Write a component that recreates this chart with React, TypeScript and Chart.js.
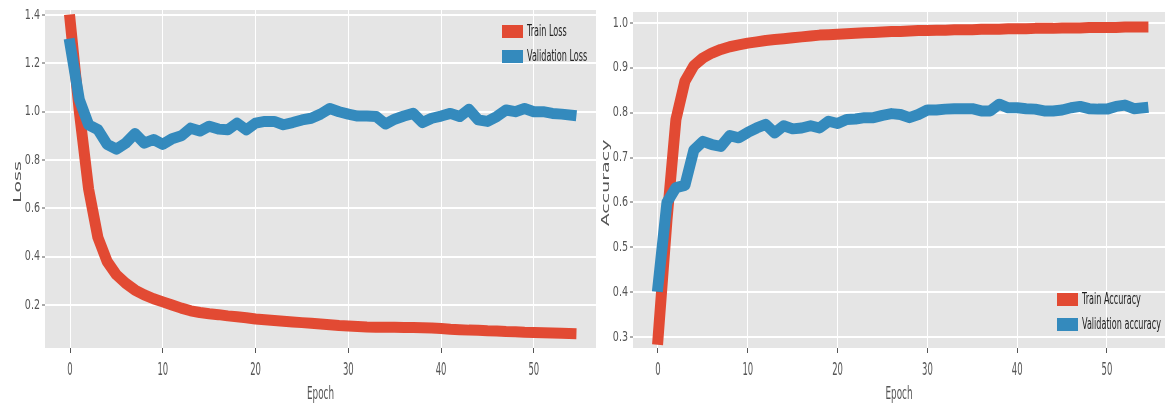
import React, { useEffect, useRef } from 'react';
import { Chart, registerables } from 'chart.js';

Chart.register(...registerables);

// ---------- data ----------
const TRAIN_LOSS = [
  1.38, 1.0, 0.68, 0.48, 0.38, 0.325, 0.29, 0.262, 0.242, 0.226,
  0.213, 0.2, 0.187, 0.176, 0.169, 0.164, 0.16, 0.155, 0.151, 0.147,
  0.142, 0.139, 0.136, 0.133, 0.13, 0.127, 0.124, 0.121, 0.118, 0.115,
  0.113, 0.111, 0.109, 0.108, 0.108, 0.108, 0.107, 0.107, 0.106, 0.105,
  0.103, 0.1, 0.098, 0.096, 0.095, 0.093, 0.092, 0.09, 0.089, 0.087,
  0.086, 0.085, 0.084, 0.083, 0.082,
];
const VAL_LOSS = [
  1.28, 1.05, 0.946, 0.926, 0.865, 0.845, 0.87, 0.91, 0.87, 0.885,
  0.865, 0.888, 0.9, 0.932, 0.92, 0.94, 0.928, 0.925, 0.953, 0.925,
  0.953, 0.96, 0.96, 0.946, 0.955, 0.966, 0.973, 0.99, 1.013, 1.0,
  0.99, 0.982, 0.982, 0.98, 0.949, 0.969, 0.982, 0.993, 0.955, 0.973,
  0.982, 0.993, 0.98, 1.01, 0.966, 0.96, 0.98, 1.007, 1.0, 1.013,
  1.0, 1.0, 0.993, 0.99, 0.986,
];
const TRAIN_ACC = [
  0.295, 0.56, 0.785, 0.87, 0.905, 0.922, 0.933, 0.941, 0.947, 0.951,
  0.955, 0.958, 0.961, 0.963, 0.965, 0.967, 0.969, 0.971, 0.973, 0.974,
  0.975, 0.976, 0.977, 0.978, 0.979, 0.98, 0.981, 0.981, 0.982, 0.983,
  0.983, 0.984, 0.984, 0.985, 0.985, 0.985, 0.986, 0.986, 0.986, 0.987,
  0.987, 0.987, 0.988, 0.988, 0.988, 0.989, 0.989, 0.989, 0.99, 0.99,
  0.99, 0.99, 0.991, 0.991, 0.991,
];
const VAL_ACC = [
  0.413, 0.6, 0.633, 0.638, 0.717, 0.736, 0.729, 0.725, 0.749, 0.744,
  0.756, 0.766, 0.774, 0.755, 0.771, 0.764, 0.766, 0.771, 0.766, 0.781,
  0.776, 0.785, 0.786, 0.789, 0.789, 0.794, 0.798, 0.796, 0.789, 0.796,
  0.806, 0.806, 0.808, 0.809, 0.809, 0.809, 0.804, 0.804, 0.819, 0.811,
  0.811, 0.809, 0.808, 0.804, 0.804, 0.806, 0.811, 0.814, 0.809, 0.808,
  0.808, 0.814, 0.817, 0.809, 0.811,
];
const EPOCHS = TRAIN_LOSS.map((_, i) => i);

const EPOCH_TICKS = [0, 10, 20, 30, 40, 50];
const LOSS_TICKS = [0.2, 0.4, 0.6, 0.8, 1.0, 1.2, 1.4];
const ACC_TICKS = [0.3, 0.4, 0.5, 0.6, 0.7, 0.8, 0.9, 1.0];

const LOSS_LABELS = ['Train Loss', 'Validation Loss'];
const ACC_LABELS = ['Train Accuracy', 'Validation accuracy'];
const X_TITLE = 'Epoch';
const LOSS_TITLE = 'Loss';
const ACC_TITLE = 'Accuracy';

// ---------- style ----------
const RED = '#E24A33';
const BLUE = '#348ABD';
const BG = '#E5E5E5';
const TICK_COLOR = '#555555';
const FONT_FAMILY = "'DejaVu Sans', 'Liberation Sans', sans-serif";

function drawText(
  ctx: CanvasRenderingContext2D,
  text: string,
  x: number,
  y: number,
  size: number,
  sx: number,
  align: CanvasTextAlign,
  color: string,
  rotate = false
) {
  ctx.save();
  ctx.translate(x, y);
  if (rotate) {
    ctx.rotate(-Math.PI / 2);
    ctx.scale(1, sx);
  } else {
    ctx.scale(sx, 1);
  }
  ctx.font = `${size}px ${FONT_FAMILY}`;
  ctx.fillStyle = color;
  ctx.textAlign = align;
  ctx.textBaseline = 'middle';
  ctx.fillText(text, 0, 0);
  ctx.restore();
}

const decorPlugin = {
  id: 'decor',
  beforeDraw(chart: any) {
    const { ctx, chartArea } = chart;
    ctx.save();
    ctx.fillStyle = BG;
    ctx.fillRect(chartArea.left, chartArea.top, chartArea.right - chartArea.left, chartArea.bottom - chartArea.top);
    ctx.restore();
  },
  afterDraw(chart: any, _args: any, opts: any) {
    const { ctx, chartArea } = chart;
    const xs = chart.scales.x;
    const ys = chart.scales.y;
    ys.ticks.forEach((t: any) => {
      const y = ys.getPixelForValue(t.value);
      drawText(ctx, t.value.toFixed(1), chartArea.left - 5, y, 14, 0.68, 'right', TICK_COLOR);
    });
    xs.ticks.forEach((t: any) => {
      const x = xs.getPixelForValue(t.value);
      drawText(ctx, String(t.value), x, chartArea.bottom + 22, 18, 0.47, 'center', TICK_COLOR);
    });
    drawText(ctx, opts.xTitle, (chartArea.left + chartArea.right) / 2, chartArea.bottom + 47, 17, 0.52, 'center', TICK_COLOR);
    drawText(ctx, opts.yTitle, chartArea.left - 27, (chartArea.top + chartArea.bottom) / 2 + 3, 19, 0.58, 'center', TICK_COLOR, true);
    const px = chartArea.right + opts.legendDx;
    const py = opts.legendCorner === 'br' ? chartArea.bottom + opts.legendDy : chartArea.top + opts.legendDy;
    chart.data.datasets.forEach((ds: any, i: number) => {
      const ry = py + i * 25;
      ctx.save();
      ctx.fillStyle = ds.borderColor;
      ctx.fillRect(px, ry, 21, 13);
      ctx.restore();
      drawText(ctx, ds.label, px + 25, ry + 6.5, 16.5, 0.49, 'left', '#222222');
    });
  },
};

function makeConfig(
  labels: string[],
  series: number[][],
  xRange: [number, number],
  yRange: [number, number],
  yTicks: number[],
  yWidth: number,
  padding: any,
  decor: any
): any {
  const colors = [RED, BLUE];
  return {
    type: 'line',
    data: {
      datasets: series.map((vals, k) => ({
        label: labels[k],
        data: EPOCHS.map((e, i) => ({ x: e, y: vals[i] })),
        borderColor: colors[k],
        backgroundColor: colors[k],
        borderWidth: 11,
        pointRadius: 0,
        tension: 0,
        fill: false,
        borderJoinStyle: 'round',
        borderCapStyle: 'square',
        order: k === 0 ? 1 : 0,
      })),
    },
    options: {
      responsive: false,
      animation: false,
      events: [],
      layout: { padding },
      plugins: {
        legend: { display: false },
        tooltip: { enabled: false },
        decor,
      },
      scales: {
        x: {
          type: 'linear',
          min: xRange[0],
          max: xRange[1],
          afterBuildTicks: (s: any) => {
            s.ticks = EPOCH_TICKS.map((v) => ({ value: v }));
          },
          afterFit: (s: any) => {
            s.height = 59;
          },
          ticks: { display: false },
          grid: { color: '#FFFFFF', lineWidth: 1, drawTicks: true, tickLength: 5, tickColor: TICK_COLOR, tickWidth: 1 },
          border: { display: false },
        },
        y: {
          type: 'linear',
          min: yRange[0],
          max: yRange[1],
          afterBuildTicks: (s: any) => {
            s.ticks = yTicks.map((v) => ({ value: v }));
          },
          afterFit: (s: any) => {
            s.width = yWidth;
          },
          ticks: { display: false },
          grid: { color: '#FFFFFF', lineWidth: 2, drawTicks: true, tickLength: 3, tickColor: TICK_COLOR, tickWidth: 1 },
          border: { display: false },
        },
      },
    },
    plugins: [decorPlugin],
  };
}

function ChartCanvas({ left, width, config }: { left: number; width: number; config: () => any }) {
  const ref = useRef<HTMLCanvasElement | null>(null);
  useEffect(() => {
    const chart = new Chart(ref.current as HTMLCanvasElement, config());
    return () => chart.destroy();
  }, []);
  return (
    <canvas
      ref={ref}
      width={width}
      height={407}
      style={{ position: 'absolute', left, top: 0, width, height: 407, display: 'block' }}
    />
  );
}

export default function App() {
  return (
    <div style={{ position: 'absolute', left: 0, top: 0, width: 1165, height: 407, background: '#FFFFFF', overflow: 'hidden' }}>
      <ChartCanvas
        left={0}
        width={600}
        config={() =>
          makeConfig(
            LOSS_LABELS,
            [TRAIN_LOSS, VAL_LOSS],
            [-2.7, 56.7],
            [0.022, 1.421],
            LOSS_TICKS,
            45,
            { left: 0, right: 4, top: 10, bottom: 0 },
            { xTitle: X_TITLE, yTitle: LOSS_TITLE, legendCorner: 'tr', legendDx: -94, legendDy: 15 }
          )
        }
      />
      <ChartCanvas
        left={597}
        width={568}
        config={() =>
          makeConfig(
            ACC_LABELS,
            [TRAIN_ACC, VAL_ACC],
            [-2.78, 56.46],
            [0.2755, 1.0245],
            ACC_TICKS,
            36,
            { left: 0, right: 0, top: 12, bottom: 0 },
            { xTitle: X_TITLE, yTitle: ACC_TITLE, legendCorner: 'br', legendDx: -108, legendDy: -55 }
          )
        }
      />
    </div>
  );
}
